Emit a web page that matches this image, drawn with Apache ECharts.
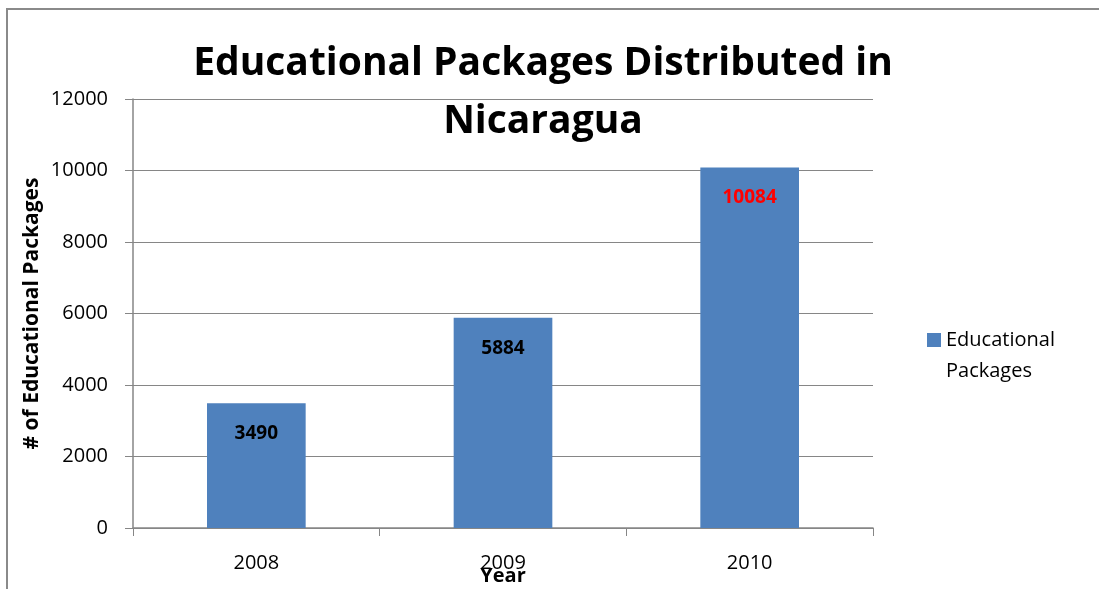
<!DOCTYPE html>
<html>
<head>
<meta charset="utf-8">
<script src="https://cdn.jsdelivr.net/npm/echarts@6/dist/echarts.min.js"></script>
<style>
  html, body { margin: 0; padding: 0; background: #fff; }
  #main { width: 1099px; height: 589px; }
</style>
</head>
<body>
<div id="main"></div>
<script>
// data
var years = ['2008', '2009', '2010'];
var packages = [3490, 5884, 10084];
var labelColors = ['#000000', '#000000', '#ff0000'];
var seriesName = 'Educational Packages';

var font = '"Open Sans", "Noto Sans", sans-serif';

var chart = echarts.init(document.getElementById('main'));

var option = {
  animation: false,
  backgroundColor: '#fff',
  textStyle: { fontFamily: font },
  title: {
    text: 'Educational Packages Distributed in\nNicaragua',
    left: 538,
    textAlign: 'center',
    top: 30,
    textStyle: { fontFamily: font, fontWeight: 'bold', fontSize: 39, lineHeight: 58, color: '#000' }
  },
  graphic: [{
    type: 'rect',
    shape: { x: 7, y: 9, width: 1200, height: 700 },
    style: { fill: 'none', stroke: '#8a8a8a', lineWidth: 2 },
    silent: true,
    z: -1
  }, {
    // second line of the legend entry
    type: 'text',
    x: 946,
    y: 371,
    style: { text: 'Packages', font: '20px ' + font, fill: '#000', verticalAlign: 'middle' },
    silent: true
  }],
  legend: {
    orient: 'vertical',
    left: 922,
    top: 319,
    itemWidth: 14,
    itemHeight: 14,
    icon: 'rect',
    formatter: function () { return 'Educational'; },
    textStyle: { fontFamily: font, fontSize: 20, lineHeight: 32, color: '#000' },
    data: [seriesName]
  },
  grid: { left: 133, right: 226, top: 99, bottom: 61, outerBoundsMode: 'none', containLabel: false },
  xAxis: {
    type: 'category',
    data: years,
    name: 'Year',
    nameLocation: 'middle',
    nameGap: 38,
    nameMoveOverlap: false,
    nameTextStyle: { fontFamily: font, fontWeight: 'bold', fontSize: 20, color: '#000' },
    axisLine: { lineStyle: { color: '#868686', width: 1.5 } },
    axisTick: { show: true, length: 8, lineStyle: { color: '#868686' } },
    axisLabel: { fontFamily: font, fontSize: 20, color: '#000', margin: 25 }
  },
  yAxis: {
    type: 'value',
    min: 0,
    max: 12000,
    interval: 2000,
    name: '# of Educational Packages',
    nameLocation: 'middle',
    nameGap: 90,
    nameRotate: 90,
    nameMoveOverlap: false,
    nameTextStyle: { fontFamily: font, fontWeight: 'bold', fontSize: 21, color: '#000' },
    axisLine: { show: true, lineStyle: { color: '#868686', width: 1.5 } },
    axisTick: { show: true, length: 8, lineStyle: { color: '#868686' } },
    axisLabel: {
      fontFamily: font, fontSize: 20, color: '#000', margin: 25,
      formatter: function (v) { return String(v); }
    },
    splitLine: { show: true, lineStyle: { color: '#868686', width: 1.2 } }
  },
  series: [{
    name: seriesName,
    type: 'bar',
    barWidth: '40%',
    itemStyle: { color: '#4f81bd' },
    label: {
      show: true,
      position: 'insideTop',
      distance: 21,
      fontFamily: font,
      fontWeight: 'bold',
      fontSize: 19
    },
    data: packages.map(function (v, i) {
      return { value: v, label: { color: labelColors[i] } };
    })
  }]
};

chart.setOption(option);
</script>
</body>
</html>
